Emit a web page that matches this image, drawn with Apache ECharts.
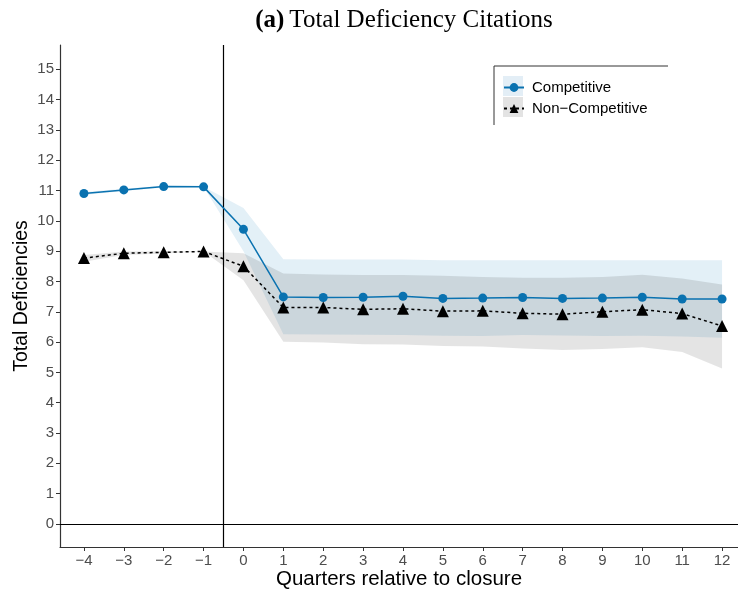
<!DOCTYPE html>
<html>
<head>
<meta charset="utf-8">
<script src="https://cdn.jsdelivr.net/npm/echarts@6/dist/echarts.min.js"></script>
<style>
  html, body { margin: 0; padding: 0; background: #ffffff; }
  #chart { width: 738px; height: 594px; }
</style>
</head>
<body>
<div id="chart"></div>
<script>
// ---- data ----
const quarters = [-4, -3, -2, -1, 0, 1, 2, 3, 4, 5, 6, 7, 8, 9, 10, 11, 12];
const compMean = [10.90, 11.02, 11.13, 11.12, 9.72, 7.49, 7.47, 7.48, 7.51, 7.44, 7.45, 7.47, 7.44, 7.45, 7.48, 7.42, 7.42];
const compLow  = [10.85, 10.98, 11.10, 11.12, 9.00, 6.26, 6.25, 6.24, 6.23, 6.21, 6.20, 6.23, 6.22, 6.20, 6.21, 6.18, 6.14];
const compHigh = [10.95, 11.06, 11.16, 11.12, 10.42, 8.73, 8.72, 8.72, 8.72, 8.70, 8.70, 8.70, 8.70, 8.70, 8.70, 8.70, 8.70];
const ncMean   = [8.77, 8.93, 8.96, 8.99, 8.50, 7.14, 7.14, 7.08, 7.10, 7.02, 7.03, 6.95, 6.92, 7.00, 7.07, 6.94, 6.53];
const ncLow    = [8.65, 8.87, 8.92, 8.99, 8.04, 6.01, 5.99, 5.93, 5.92, 5.87, 5.85, 5.79, 5.74, 5.77, 5.83, 5.67, 5.13];
const ncHigh   = [8.87, 8.99, 9.00, 8.99, 8.93, 8.26, 8.23, 8.21, 8.21, 8.19, 8.15, 8.12, 8.12, 8.15, 8.22, 8.10, 7.90];
const xTicks = [-4, -3, -2, -1, 0, 1, 2, 3, 4, 5, 6, 7, 8, 9, 10, 11, 12];
const yTicks = [0, 1, 2, 3, 4, 5, 6, 7, 8, 9, 10, 11, 12, 13, 14, 15];
const closureLine = -0.5;
const seriesNames = ['Competitive', 'Non\u2212Competitive'];
const titleBold = '(a)';
const titleText = 'Total Deficiency Citations';
const xTitle = 'Quarters relative to closure';
const yTitle = 'Total Deficiencies';

const pairs = (ys) => quarters.map((q, i) => [q, ys[i]]);
const fmt = (v) => (v < 0 ? '\u2212' + Math.abs(v) : String(v));

function bandSeries(name, lo, hi, fill, z) {
  return {
    name: name, type: 'custom', silent: true, z: z, clip: true,
    data: [[quarters[0], lo[0]]],
    encode: { x: 0, y: 1 },
    renderItem: function (params, api) {
      const top = quarters.map((q, i) => api.coord([q, hi[i]]));
      const bot = quarters.map((q, i) => api.coord([q, lo[i]])).reverse();
      return { type: 'polygon', shape: { points: top.concat(bot) }, style: { fill: fill, stroke: null } };
    }
  };
}

const BLUE = '#0a72b0';
const tickFont = { fontFamily: '"Liberation Sans", Arial, sans-serif', fontSize: 15, color: '#4d4d4d' };

const chart = echarts.init(document.getElementById('chart'), null, { renderer: 'canvas' });
chart.setOption({
  animation: false,
  backgroundColor: '#ffffff',
  title: {
    text: '{b|' + titleBold + '} {n|' + titleText + '}',
    left: 399,
    top: 3,
    textAlign: 'center',
    textStyle: {
      rich: {
        b: { fontFamily: '"Liberation Serif", "DejaVu Serif", serif', fontWeight: 'bold', fontSize: 25, color: '#000' },
        n: { fontFamily: '"Liberation Serif", "DejaVu Serif", serif', fontWeight: 'normal', fontSize: 25, color: '#000' }
      }
    }
  },
  grid: { left: 60, right: 0, top: 45, bottom: 47, containLabel: false, outerBoundsMode: 'none' },
  legend: {
    data: seriesNames,
    orient: 'vertical',
    left: 503,
    top: 80,
    padding: 0,
    itemWidth: 20,
    itemHeight: 11,
    itemGap: 6,
    textStyle: { fontFamily: '"Liberation Sans", Arial, sans-serif', fontSize: 15, color: '#000', padding: [0, 0, 0, 3] }
  },
  xAxis: {
    type: 'value',
    min: -4.6,
    max: 12.4,
    splitLine: { show: false },
    axisLine: { show: true, onZero: false, lineStyle: { color: '#333', width: 1.2 } },
    axisTick: { show: true, customValues: xTicks, length: 4, lineStyle: { color: '#333' } },
    axisLabel: Object.assign({ customValues: xTicks, formatter: fmt, margin: 6 }, tickFont),
    name: xTitle,
    nameLocation: 'middle',
    nameGap: 22,
    nameMoveOverlap: false,
    nameTextStyle: { fontFamily: '"Liberation Sans", Arial, sans-serif', fontSize: 20.5, color: '#000' }
  },
  yAxis: {
    type: 'value',
    min: -0.76,
    max: 15.8,
    splitLine: { show: false },
    axisLine: { show: true, onZero: false, lineStyle: { color: '#333', width: 1.2 } },
    axisTick: { show: true, customValues: yTicks, length: 4, lineStyle: { color: '#333' } },
    axisLabel: Object.assign({ customValues: yTicks, formatter: fmt, margin: 6 }, tickFont),
    name: yTitle,
    nameLocation: 'middle',
    nameGap: 28,
    nameRotate: 90,
    nameMoveOverlap: false,
    nameTextStyle: { fontFamily: '"Liberation Sans", Arial, sans-serif', fontSize: 19.5, color: '#000' }
  },
  series: [
    bandSeries('cBand', compLow, compHigh, 'rgba(0,114,178,0.11)', 1),
    bandSeries('nBand', ncLow, ncHigh, 'rgba(0,0,0,0.105)', 2),
    { name: 'refs', type: 'line', data: [], silent: true, z: 3,
      markLine: { silent: true, symbol: ['none', 'none'], label: { show: false },
        lineStyle: { color: '#000', width: 1.2, type: 'solid' },
        data: [{ xAxis: closureLine }, { yAxis: 0 }] } },
    { name: seriesNames[0], type: 'line', data: pairs(compMean), symbol: 'circle', symbolSize: 9,
      itemStyle: { color: BLUE }, lineStyle: { color: BLUE, width: 1.5 }, z: 5 },
    { name: seriesNames[1], type: 'line', data: pairs(ncMean), symbol: 'triangle', symbolSize: 12,
      itemStyle: { color: '#000' }, lineStyle: { color: '#000', width: 1.5, type: [3, 3] }, z: 6 }
  ],
  graphic: [
    { type: 'rect', shape: { x: 503, y: 76, width: 20, height: 20 }, style: { fill: '#e3eef6' }, z: -1, silent: true },
    { type: 'rect', shape: { x: 503, y: 97, width: 20, height: 20 }, style: { fill: '#e3e3e3' }, z: -1, silent: true },
    { type: 'line', shape: { x1: 494, y1: 66, x2: 668, y2: 66 }, style: { stroke: '#333', lineWidth: 1 }, silent: true },
    { type: 'line', shape: { x1: 494, y1: 66, x2: 494, y2: 125 }, style: { stroke: '#333', lineWidth: 1 }, silent: true }
  ]
});
</script>
</body>
</html>
